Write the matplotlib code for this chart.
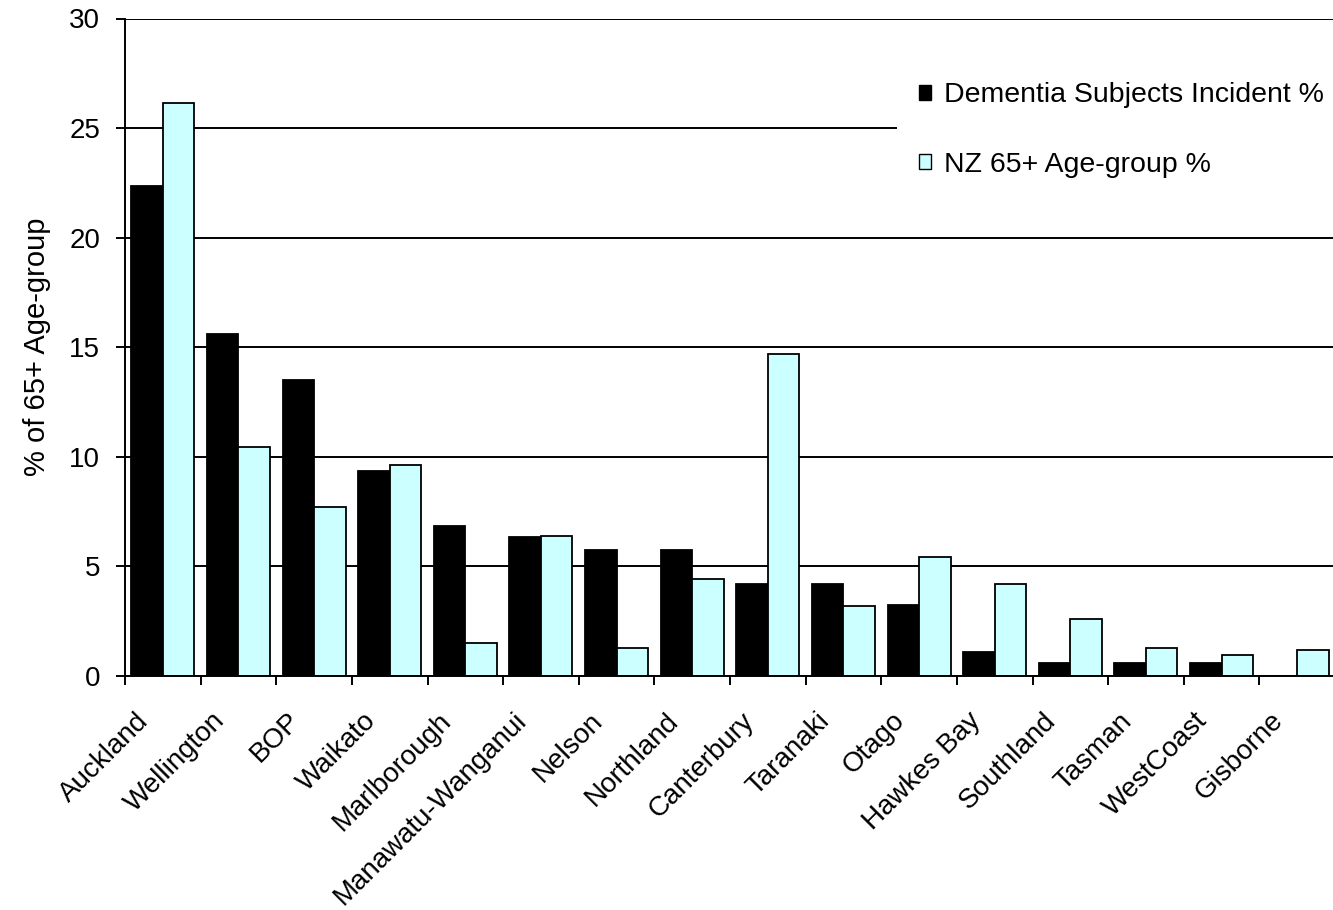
import matplotlib
matplotlib.use("Agg")
import matplotlib.pyplot as plt
import matplotlib.transforms as mtransforms
import numpy as np
from matplotlib.patches import Patch

regions = ["Auckland", "Wellington", "BOP", "Waikato", "Marlborough",
           "Manawatu-Wanganui", "Nelson", "Northland", "Canterbury",
           "Taranaki", "Otago", "Hawkes Bay", "Southland", "Tasman",
           "WestCoast", "Gisborne"]
dementia_pct = [22.35, 15.6, 13.5, 9.35, 6.83, 6.33, 5.74, 5.74, 4.22,
                4.22, 3.22, 1.11, 0.59, 0.59, 0.59, 0.0]
nz65_pct = [26.15, 10.43, 7.71, 9.63, 1.49, 6.41, 1.28, 4.41, 14.67,
            3.19, 5.41, 4.19, 2.6, 1.29, 0.97, 1.17]
y_ticks = [0, 5, 10, 15, 20, 25, 30]

plt.rcParams["font.family"] = ["Liberation Sans", "DejaVu Sans"]
plt.rcParams["font.size"] = 20

W, H = 1333, 910
L, R, T, B = 125, 1335, 18.5, 676
fig = plt.figure(figsize=(W / 100, H / 100), dpi=100)
ax = fig.add_axes([L / W, 1 - B / H, (R - L) / W, (B - T) / H])

x = np.arange(len(regions))
bw = 0.416
ax.bar(x - bw / 2, dementia_pct, bw, color="black", edgecolor="black",
       linewidth=1.3, zorder=3)
ax.bar(x + bw / 2, nz65_pct, bw, color="#CCFFFF", edgecolor="black",
       linewidth=1.3, zorder=3)

ax.set_xlim(-0.5, len(regions) - 0.5)
ax.set_ylim(0, 30)
ax.set_yticks(y_ticks)
ax.yaxis.grid(True, color="black", linewidth=1.4, zorder=1)
ax.set_axisbelow(True)

for s in ("top", "right"):
    ax.spines[s].set_visible(False)
for s in ("left", "bottom"):
    ax.spines[s].set_linewidth(1.4)
    ax.spines[s].set_zorder(4)

# tick marks sit on the category boundaries
ax.set_xticks(np.arange(-0.5, len(regions) + 0.5, 1.0))
ax.set_xticklabels([])
ax.tick_params(axis="x", length=6.5, width=1.4, direction="out")
ax.tick_params(axis="y", length=6.5, width=1.4, direction="out", pad=11.5)

# rotated category names, end of each name just below its group
label_tf = (mtransforms.blended_transform_factory(ax.transData, ax.transAxes)
            + mtransforms.ScaledTranslation(-18 / 100, -41 / 100,
                                            fig.dpi_scale_trans))
for i, name in enumerate(regions):
    ax.text(i, 0, name, transform=label_tf, rotation=45,
            rotation_mode="anchor", ha="right", va="center", fontsize=20)

ax.set_ylabel("% of 65+ Age-group", fontsize=21)
ax.yaxis.set_label_coords((51 - L) / (R - L), 0.5)

handles = [Patch(facecolor="black", edgecolor="black", linewidth=1.0),
           Patch(facecolor="#CCFFFF", edgecolor="black", linewidth=1.0)]
leg = ax.legend(handles, ["Dementia Subjects Incident %", "NZ 65+ Age-group %"],
                loc="center left", bbox_to_anchor=(897 / W, 1 - 130 / H),
                bbox_transform=fig.transFigure, frameon=True, fancybox=False,
                fontsize=20.5, borderpad=0.77, handlelength=0.42,
                handleheight=0.42, handletextpad=0.45, labelspacing=1.52,
                borderaxespad=0)
leg.get_frame().set_facecolor("white")
leg.get_frame().set_edgecolor("none")
leg.get_frame().set_alpha(1)
leg.set_zorder(5)

fig.savefig("out.png", dpi=100)
